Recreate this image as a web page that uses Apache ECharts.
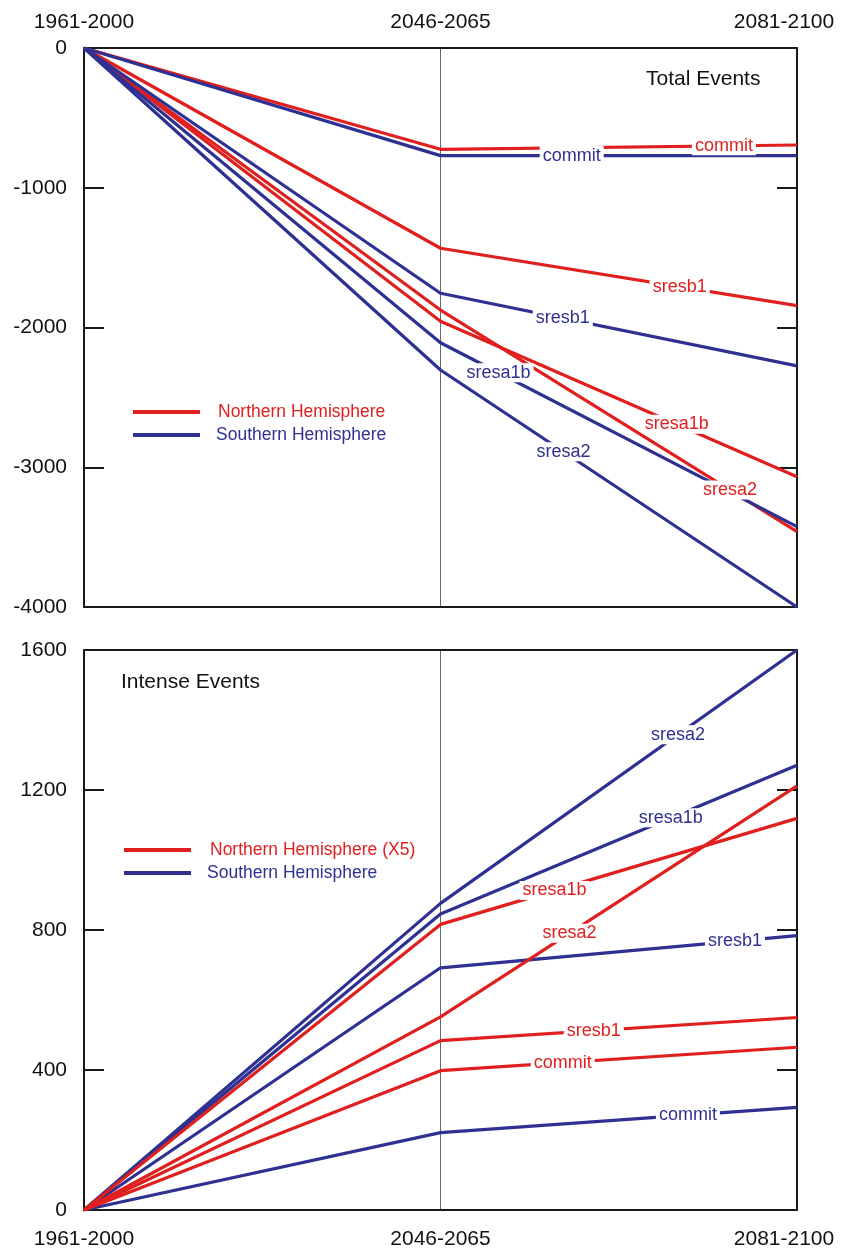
<!DOCTYPE html>
<html>
<head>
<meta charset="utf-8">
<script src="https://cdn.jsdelivr.net/npm/echarts@6/dist/echarts.min.js"></script>
<style>
html,body{margin:0;padding:0;background:#fff;}
#chart{width:850px;height:1252px;}
</style>
</head>
<body>
<div id="chart"></div>
<script>
// ---- data ----
const periods = ['1961-2000', '2046-2065', '2081-2100'];
const scenarios = ['commit', 'sresb1', 'sresa1b', 'sresa2'];

// Total Events (top panel)
const totalNorthCommit  = [0, -725, -694];
const totalNorthSresb1  = [0, -1433, -1844];
const totalNorthSresa1b = [0, -1955, -3068];
const totalNorthSresa2  = [0, -1875, -3461];
const totalSouthCommit  = [0, -770, -770];
const totalSouthSresb1  = [0, -1755, -2275];
const totalSouthSresa1b = [0, -2109, -3425];
const totalSouthSresa2  = [0, -2304, -4000];

// Intense Events (bottom panel, Northern Hemisphere x5)
const intenseNorthCommit  = [0, 398, 465];
const intenseNorthSresb1  = [0, 484, 550];
const intenseNorthSresa1b = [0, 816, 1119];
const intenseNorthSresa2  = [0, 552, 1212];
const intenseSouthCommit  = [0, 221, 293];
const intenseSouthSresb1  = [0, 692, 784];
const intenseSouthSresa1b = [0, 846, 1271];
const intenseSouthSresa2  = [0, 876, 1600];

const totalTicks = [-4000, -3000, -2000, -1000, 0];
const intenseTicks = [0, 400, 800, 1200, 1600];

// ---- style ----
const RED = '#e0201f';
const BLUE = '#2e3192';
const FONT = '"Liberation Sans", Arial, Helvetica, sans-serif';
const NH = 'Northern Hemisphere';
const NH5 = 'Northern Hemisphere (X5)';
const SH = 'Southern Hemisphere';

// where (fraction along the 2046-2065 -> 2081-2100 segment) each line label sits
const labelFrac = {
  top: {
    north: {commit: 0.795, sresb1: 0.671, sresa1b: 0.663, sresa2: 0.812},
    south: {commit: 0.368, sresb1: 0.343, sresa1b: 0.163, sresa2: 0.345}
  },
  bottom: {
    north: {commit: 0.343, sresb1: 0.43, sresa1b: 0.32, sresa2: 0.362},
    south: {commit: 0.694, sresb1: 0.826, sresa1b: 0.646, sresa2: 0.666}
  }
};

const panels = {
  top: {
    north: {commit: totalNorthCommit, sresb1: totalNorthSresb1, sresa1b: totalNorthSresa1b, sresa2: totalNorthSresa2},
    south: {commit: totalSouthCommit, sresb1: totalSouthSresb1, sresa1b: totalSouthSresa1b, sresa2: totalSouthSresa2}
  },
  bottom: {
    north: {commit: intenseNorthCommit, sresb1: intenseNorthSresb1, sresa1b: intenseNorthSresa1b, sresa2: intenseNorthSresa2},
    south: {commit: intenseSouthCommit, sresb1: intenseSouthSresb1, sresa1b: intenseSouthSresa1b, sresa2: intenseSouthSresa2}
  }
};

const series = [];
function addPanel(key, gridIdx, northName, order) {
  order.forEach(hemi => {
    const color = hemi === 'north' ? RED : BLUE;
    const name = hemi === 'north' ? northName : SH;
    scenarios.forEach(sc => {
      const vals = panels[key][hemi][sc];
      series.push({
        type: 'line', name: name,
        xAxisIndex: gridIdx * 2, yAxisIndex: gridIdx * 2,
        data: vals.map((v, i) => [i, v]),
        symbol: 'none', lineStyle: {color: color, width: 3.2},
        itemStyle: {color: color}, z: 3, silent: true
      });
    });
  });
  // line labels
  order.forEach(hemi => {
    const color = hemi === 'north' ? RED : BLUE;
    const pts = scenarios.map(sc => {
      const vals = panels[key][hemi][sc];
      const f = labelFrac[key][hemi][sc];
      return {name: sc, value: [1 + f, vals[1] + f * (vals[2] - vals[1])]};
    });
    series.push({
      type: 'scatter', name: key + hemi + 'labels',
      xAxisIndex: gridIdx * 2, yAxisIndex: gridIdx * 2,
      data: pts, symbolSize: 0, z: 10, silent: true,
      itemStyle: {opacity: 1, color: color},
      label: {
        show: true, position: 'inside', formatter: '{b}', opacity: 1,
        color: color, fontSize: 18, fontFamily: FONT,
        backgroundColor: '#fff', padding: [1, 3, 0, 3]
      }
    });
  });
}
addPanel('top', 0, NH, ['north', 'south']);
addPanel('bottom', 1, NH5, ['south', 'north']);

const spine = {show: true, onZero: false, lineStyle: {color: '#1a1a1a', width: 2}};
function xLabelFmt(v) {
  if (v === 2) return '{r|' + periods[v] + '}';
  return periods[v] !== undefined ? periods[v] : '';
}
const xLabelStyle = (margin) => ({
  show: true, formatter: xLabelFmt, fontSize: 21, fontFamily: FONT, color: '#111',
  margin: margin,
  rich: {r: {fontSize: 21, fontFamily: FONT, color: '#111', padding: [0, 26, 0, 0]}}
});

function xAxes(gridIdx, labelPos) {
  const base = {type: 'value', gridIndex: gridIdx, min: 0, max: 2, interval: 1,
    axisTick: {show: false}, axisLine: spine};
  const main = Object.assign({}, base, {
    position: labelPos,
    axisLabel: xLabelStyle(labelPos === 'top' ? 15 : 19),
    splitLine: {show: true, lineStyle: {color: '#666', width: 1}}
  });
  const other = Object.assign({}, base, {
    position: labelPos === 'top' ? 'bottom' : 'top',
    axisLabel: {show: false}, splitLine: {show: false}
  });
  return [main, other];
}
function yAxes(gridIdx, ticks) {
  const base = {type: 'value', gridIndex: gridIdx, min: ticks[0], max: ticks[ticks.length - 1],
    interval: ticks[1] - ticks[0], axisLine: spine, splitLine: {show: false},
    axisTick: {show: true, inside: true, length: 20, lineStyle: {color: '#1a1a1a', width: 2}}};
  return [
    Object.assign({}, base, {position: 'left',
      axisLabel: {show: true, fontSize: 21, fontFamily: FONT, color: '#111', margin: 17,
        formatter: v => String(v)}}),
    Object.assign({}, base, {position: 'right', axisLabel: {show: false}})
  ];
}

const legendBase = {
  orient: 'vertical', icon: 'rect', itemWidth: 67, itemHeight: 4, itemGap: 5,
  textStyle: {fontSize: 17.5, fontFamily: FONT}, selectedMode: false
};

const option = {
  animation: false,
  backgroundColor: '#fff',
  title: [
    {text: 'Total Events', left: 641, top: 64, textStyle: {fontSize: 21, fontWeight: 'normal', fontFamily: FONT, color: '#111'}},
    {text: 'Intense Events', left: 116, top: 667, textStyle: {fontSize: 21, fontWeight: 'normal', fontFamily: FONT, color: '#111'}}
  ],
  legend: [
    Object.assign({}, legendBase, {left: 128, top: 398,
      data: [{name: NH, textStyle: {color: RED, padding: [0, 0, 0, 13]}},
             {name: SH, textStyle: {color: BLUE, padding: [0, 0, 0, 11]}}]}),
    Object.assign({}, legendBase, {left: 119, top: 836,
      data: [{name: NH5, textStyle: {color: RED, padding: [0, 0, 0, 14]}},
             {name: SH, textStyle: {color: BLUE, padding: [0, 0, 0, 11]}}]})
  ],
  grid: [
    {left: 84, right: 53, top: 48, height: 559},
    {left: 84, right: 53, top: 650, height: 560}
  ],
  xAxis: [].concat(xAxes(0, 'top'), xAxes(1, 'bottom')),
  yAxis: [].concat(yAxes(0, totalTicks), yAxes(1, intenseTicks)),
  series: series
};

const chart = echarts.init(document.getElementById('chart'), null, {renderer: 'canvas'});
chart.setOption(option);
</script>
</body>
</html>
